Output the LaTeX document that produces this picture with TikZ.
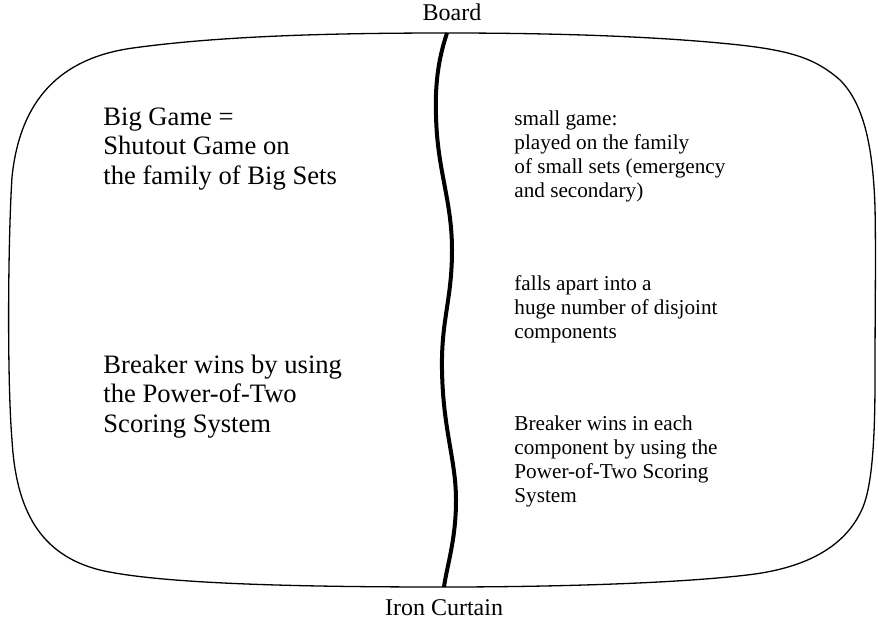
\documentclass[tikz,border=0pt]{standalone}
\usepackage{fontspec}
\setmainfont{Liberation Serif}
\usetikzlibrary{positioning}

\begin{document}
\begin{tikzpicture}[x=0.5pt,y=-0.5pt,line join=round]
  \tikzset{bigtext/.style={anchor=base west,inner sep=0pt,align=left,font=\fontsize{13.3}{14.6}\selectfont},
    smalltext/.style={anchor=base west,inner sep=0pt,align=left,font=\fontsize{10.6}{11.85}\selectfont},
    edgelabel/.style={inner sep=0pt,font=\fontsize{12}{14}\selectfont}}
  \useasboundingbox (0,0) rectangle (878,621);

  \coordinate (top) at (447,33);
  \coordinate (bot) at (444,587);

  % the board
  \draw[line width=0.65pt] (top) .. controls (330,33) and (220,36) .. (133,48)
    .. controls (60,58) and (20,100) .. (12,177)
    .. controls (8,240) and (7,380) .. (12,440)
    .. controls (16,510) and (40,555) .. (100,570)
    .. controls (160,584) and (300,587) .. (bot)
    .. controls (560,587) and (680,583) .. (747,575)
    .. controls (800,569) and (845,550) .. (863,507)
    .. controls (872,485) and (875,440) .. (875,380)
    .. controls (875,300) and (876,260) .. (875,207)
    .. controls (873,150) and (865,105) .. (840,80)
    .. controls (815,58) and (790,50) .. (730,44)
    .. controls (650,36) and (550,33) .. (top) -- cycle;

  % the iron curtain
  \draw[line width=2pt] (top) .. controls (438,60) and (435,85) .. (436,115)
    .. controls (437,170) and (452,200) .. (452,250)
    .. controls (452,300) and (441,320) .. (442,370)
    .. controls (443,430) and (456,460) .. (456,500)
    .. controls (456,540) and (447,565) .. (bot);

  \node[edgelabel,above=6pt of top,xshift=2.5pt] (board) {Board};
  \node[edgelabel,below=6pt of bot] (curtain) {Iron Curtain};

  % anchored at the baseline of the last line
  \node[bigtext] (biggame) at (103,184) {Big Game =\\Shutout Game on\\the family of Big Sets};
  \node[bigtext] (bigwin) at (103,432) {Breaker wins by using\\the Power-of-Two\\Scoring System};

  \node[smalltext] (smallgame) at (514,197) {small game:\\played on the family\\of small sets (emergency\\and secondary)};
  \node[smalltext] (apart) at (514,338) {falls apart into a\\huge number of disjoint\\components};
  \node[smalltext] (smallwin) at (514,502) {Breaker wins in each\\component by using the\\Power-of-Two Scoring\\System};
\end{tikzpicture}
\end{document}
